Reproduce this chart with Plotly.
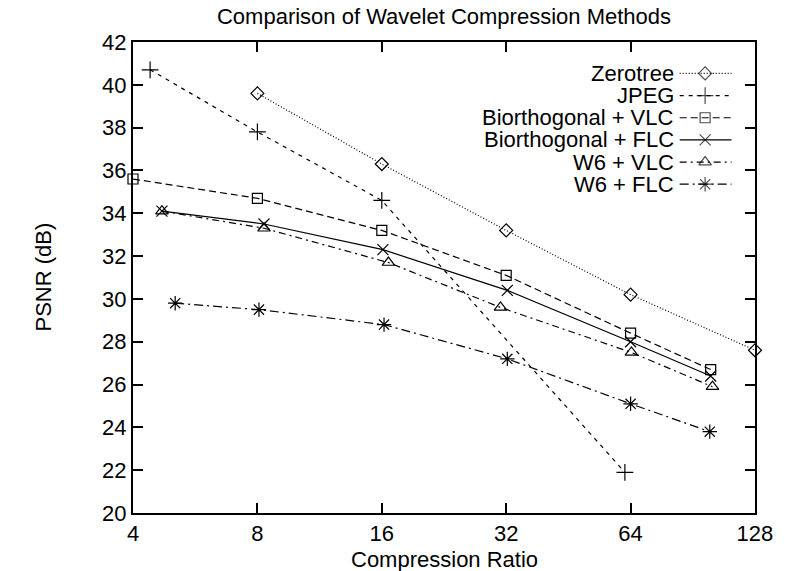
import plotly.graph_objects as go

# ---- data ----
series_names = ["Zerotree", "JPEG", "Biorthogonal + VLC", "Biorthogonal + FLC", "W6 + VLC", "W6 + FLC"]
zerotree_x = [8, 16, 32, 64, 128]
zerotree_y = [39.6, 36.3, 33.2, 30.2, 27.6]
jpeg_x = [4.4, 8, 16, 62]
jpeg_y = [40.7, 37.8, 34.6, 21.9]
bio_vlc_x = [4, 8, 16, 32, 64, 100]
bio_vlc_y = [35.6, 34.7, 33.2, 31.1, 28.4, 26.7]
bio_flc_x = [4.7, 8.3, 16.1, 32.2, 64, 100]
bio_flc_y = [34.1, 33.5, 32.3, 30.4, 28.0, 26.4]
w6_vlc_x = [4.7, 8.3, 16.6, 31, 64.3, 101]
w6_vlc_y = [34.1, 33.3, 31.7, 29.6, 27.5, 25.9]
w6_flc_x = [5.06, 8.07, 16.2, 32.2, 64, 99.5]
w6_flc_y = [29.8, 29.5, 28.8, 27.2, 25.1, 23.8]
x_ticks = [4, 8, 16, 32, 64, 128]
x_ticktext = ["4", "8", "16", "32", "64", "128"]

FONT = "Liberation Sans, Arial, sans-serif"
FS = 22

styles = [
    dict(dash="1px,2px", symbol="diamond-open", size=10),
    dict(dash="4px,5px", symbol="cross-thin-open", size=12),
    dict(dash="7px,4px", symbol="square-open", size=10),
    dict(dash="solid", symbol="x-thin-open", size=11),
    dict(dash="7px,4px,2px,4px", symbol="triangle-up-open", size=11),
    dict(dash="9px,4px,2px,4px", symbol="asterisk-open", size=12),
]
data = [(zerotree_x, zerotree_y), (jpeg_x, jpeg_y), (bio_vlc_x, bio_vlc_y),
        (bio_flc_x, bio_flc_y), (w6_vlc_x, w6_vlc_y), (w6_flc_x, w6_flc_y)]

fig = go.Figure()
for name, (xs, ys), st in zip(series_names, data, styles):
    fig.add_trace(go.Scatter(
        x=xs, y=ys, mode="lines+markers", name=name, cliponaxis=False,
        line=dict(color="black", width=1.2, dash=st["dash"]),
        marker=dict(symbol=st["symbol"], size=st["size"], color="black",
                    line=dict(color="black", width=1.2)),
        showlegend=False,
    ))

# ---- custom gnuplot-style legend ----
L, R, T, B = 133, 769, 41.5, 513.5
def px(xp):
    return (xp - L) / (R - L)
def py(yp):
    return (B - yp) / (B - T)

annotations = []
for i, (name, st) in enumerate(zip(series_names, styles)):
    yrow = 73 + 22.2 * i
    annotations.append(dict(
        text=name, xref="paper", yref="paper", x=px(688), y=py(yrow),
        xanchor="right", yanchor="middle", showarrow=False,
        font=dict(family=FONT, size=FS, color="black")))
    fig.add_trace(go.Scatter(
        x=[px(692), px(718), px(745)], y=[py(yrow)] * 3,
        xaxis="x2", yaxis="y2", mode="lines+markers", showlegend=False,
        hoverinfo="skip", cliponaxis=False,
        line=dict(color="black", width=1.2, dash=st["dash"]),
        marker=dict(symbol=st["symbol"], size=[0, st["size"], 0], color="black",
                    line=dict(color="black", width=1.2)),
    ))

annotations.append(dict(
    text="Compression Ratio", xref="paper", yref="paper", x=0.5, y=0,
    yshift=-46, xanchor="center", yanchor="middle", showarrow=False,
    font=dict(family=FONT, size=FS, color="black")))
annotations.append(dict(
    text="PSNR (dB)", xref="paper", yref="paper", x=0, y=0.5,
    xshift=-90, xanchor="center", yanchor="middle", showarrow=False,
    textangle=-90, font=dict(family=FONT, size=FS, color="black")))

axis_common = dict(
    showline=True, linecolor="black", linewidth=2, mirror="allticks",
    ticks="inside", ticklen=10, tickwidth=1.5, tickcolor="black",
    showgrid=False, zeroline=False, ticklabeloverflow="allow",
    tickfont=dict(family=FONT, size=FS, color="black"),
)

fig.update_layout(
    width=785, height=571,
    margin=dict(l=L, r=785 - R, t=T, b=571 - B),
    paper_bgcolor="white", plot_bgcolor="white",
    title=dict(text="Comparison of Wavelet Compression Methods",
               x=0.5, xref="paper", y=1 - 16 / 571, yref="container",
               xanchor="center", yanchor="middle",
               font=dict(family=FONT, size=FS, color="black")),
    xaxis=dict(type="log", range=[0.60205, 2.10725], tickvals=x_ticks,
               ticktext=x_ticktext, **axis_common),
    yaxis=dict(range=[20, 42], dtick=2, tick0=20, **axis_common),
    xaxis2=dict(overlaying="x", range=[0, 1], visible=False, fixedrange=True),
    yaxis2=dict(overlaying="y", range=[0, 1], visible=False, fixedrange=True),
    annotations=annotations,
    font=dict(family=FONT, size=FS, color="black"),
)

fig.write_html("out.html", config={"displayModeBar": False},
               post_script="document.body.style.margin='0px';")
